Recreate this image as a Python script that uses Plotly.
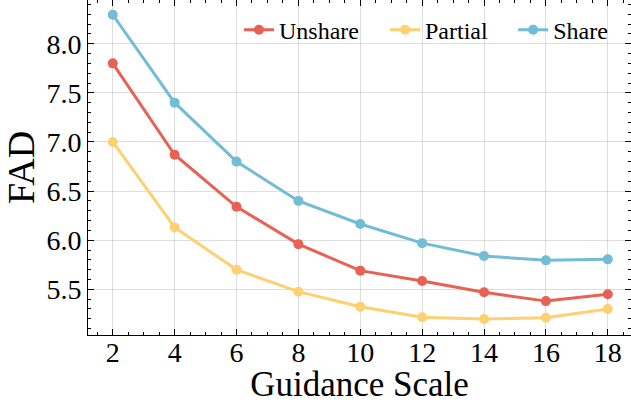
import plotly.graph_objects as go

guidance = [2, 4, 6, 8, 10, 12, 14, 16, 18]
unshare = [7.80, 6.87, 6.34, 5.96, 5.69, 5.585, 5.47, 5.38, 5.45]
partial = [7.00, 6.13, 5.70, 5.476, 5.323, 5.215, 5.198, 5.21, 5.30]
share = [8.295, 7.40, 6.80, 6.40, 6.165, 5.97, 5.84, 5.795, 5.805]

series = [("Unshare", unshare, "#E76254", "legend"),
          ("Partial", partial, "#FFD06F", "legend2"),
          ("Share", share, "#72BCD5", "legend3")]

FONT = "Liberation Serif"
fig = go.Figure()
for name, vals, col, leg in series:
    fig.add_trace(go.Scatter(x=guidance, y=vals, name=name, mode="lines+markers", legend=leg,
                             showlegend=True,
                             line=dict(color=col, width=3), marker=dict(color=col, size=10)))

axis_common = dict(showline=True, linecolor="black", linewidth=1, mirror="allticks",
                   ticks="inside", ticklen=6, tickwidth=1, tickcolor="black",
                   showgrid=True, gridcolor="rgba(0,0,0,0.13)", gridwidth=1,
                   zeroline=False, automargin=False,
                   tickfont=dict(family=FONT, size=28, color="black"))

fig.update_xaxes(range=[1.2, 18.75], tickmode="array", tickvals=guidance, ticklabelstandoff=-8,
                 minor=dict(dtick=0.5, tick0=0, ticks="inside", ticklen=3, tickcolor="black", showgrid=False),
                 title=dict(text="Guidance Scale", font=dict(family=FONT, size=35, color="black"), standoff=8),
                 **axis_common)
fig.update_yaxes(range=[5.035, 8.445], tickvals=[5.5, 6.0, 6.5, 7.0, 7.5, 8.0], tickformat=".1f",
                 minor=dict(dtick=0.1, tick0=0, ticks="inside", ticklen=3, tickcolor="black", showgrid=False),
                 title=dict(text="FAD", font=dict(family=FONT, size=38, color="black"), standoff=6),
                 **axis_common)

leg_common = dict(orientation="h", yanchor="middle", y=0.91, xanchor="left",
                  bgcolor="rgba(0,0,0,0)", borderwidth=0, visible=True,
                  font=dict(family=FONT, size=24, color="black"), itemwidth=30)

fig.update_layout(width=631, height=404, margin=dict(l=88, r=0, t=0, b=69),
                  showlegend=True,
                  plot_bgcolor="white", paper_bgcolor="white",
                  font=dict(family=FONT, color="black"),
                  legend=dict(x=0.278, **leg_common),
                  legend2=dict(x=0.547, **leg_common),
                  legend3=dict(x=0.783, **leg_common))

fig.write_html("out.html", config={"displayModeBar": False},
               post_script="document.body.style.margin='0';")
